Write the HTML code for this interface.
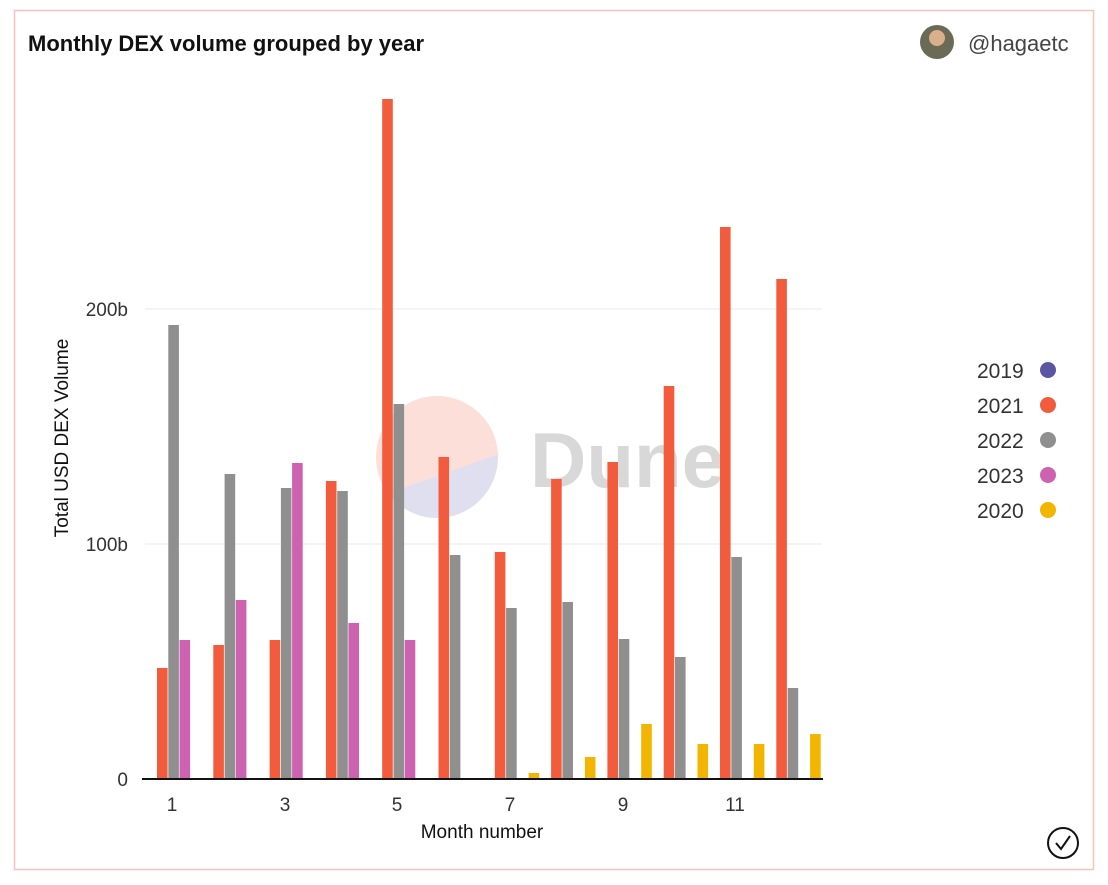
<!DOCTYPE html>
<html><head><meta charset="utf-8"><style>
body{margin:0;width:1108px;height:880px;background:#fff;font-family:"Liberation Sans",sans-serif;}
</style></head><body>
<svg width="1108" height="880" xmlns="http://www.w3.org/2000/svg" font-family="Liberation Sans, sans-serif">
<rect x="14.5" y="10.5" width="1079" height="859" fill="#fff" stroke="#f6c3bb" stroke-width="1.5"/>
<text x="28" y="51" font-size="22" font-weight="bold" fill="#111">Monthly DEX volume grouped by year</text>
<circle cx="937" cy="42" r="17" fill="#6b6a55"/>
<circle cx="937" cy="38" r="8" fill="#d9b08a"/>
<text x="968" y="51" font-size="22" fill="#444">@hagaetc</text>
<line x1="145" y1="309" x2="822" y2="309" stroke="#e8e8e8"/>
<line x1="145" y1="544" x2="822" y2="544" stroke="#e8e8e8"/>
<text x="128" y="316" font-size="19" fill="#333" text-anchor="end">200b</text>
<text x="128" y="551" font-size="19" fill="#333" text-anchor="end">100b</text>
<text x="128" y="786" font-size="19" fill="#333" text-anchor="end">0</text>
<text transform="translate(68,438) rotate(-90)" font-size="19" fill="#111" text-anchor="middle">Total USD DEX Volume</text>
<defs><clipPath id="c"><circle cx="437" cy="457" r="61"/></clipPath></defs>
<g clip-path="url(#c)" opacity="0.75">
<rect x="370" y="390" width="140" height="140" fill="#fbd5cc"/>
<polygon points="370,500 510,450 510,530 370,530" fill="#d5d5ea"/>
</g>
<text x="530" y="487" font-size="78" font-weight="bold" fill="#d8d8d8">Dune</text>
<g id="bars"></g>
<line x1="142" y1="779" x2="823" y2="779" stroke="#111" stroke-width="2"/>
<g font-size="19" fill="#333" text-anchor="middle">
<text x="172" y="811">1</text><text x="285" y="811">3</text><text x="397" y="811">5</text>
<text x="510" y="811">7</text><text x="623" y="811">9</text><text x="735" y="811">11</text>
</g>
<text x="482" y="838" font-size="19" fill="#111" text-anchor="middle">Month number</text>
<g font-size="21" fill="#333">
<text x="977" y="378">2019</text><text x="977" y="413">2021</text><text x="977" y="448">2022</text><text x="977" y="483">2023</text><text x="977" y="518">2020</text>
</g>
<circle cx="1048" cy="370" r="8" fill="#5a56a3"/>
<circle cx="1048" cy="405" r="8" fill="#f25c3c"/>
<circle cx="1048" cy="440" r="8" fill="#8f8f8f"/>
<circle cx="1048" cy="475" r="8" fill="#cc62b0"/>
<circle cx="1048" cy="510" r="8" fill="#f2b600"/>
<circle cx="1063" cy="843" r="15" fill="none" stroke="#111" stroke-width="2"/>
<polyline points="1056,843 1061,849 1070,836" fill="none" stroke="#111" stroke-width="2"/>
</svg>
<script>
var d=[[668,325,640,null],[645,474,600,null],[640,488,463,778],[481,491,623,778],[99,404,640,778],[457,555,null,778],[552,608,null,773],[479,602,null,757],[462,639,null,724],[386,657,null,744],[227,557,null,744],[279,688,null,734]];
var c=["#f25c3c","#8f8f8f","#cc62b0","#f2b600"];var s="";
d.forEach(function(g,i){var x0=157+56.3*i;g.forEach(function(t,j){if(t===null)return;s+='<rect x="'+(x0+j*11.26).toFixed(1)+'" y="'+t+'" width="10.6" height="'+(779-t)+'" fill="'+c[j]+'"/>';});});
document.getElementById("bars").innerHTML=s;
</script>
</body></html>
